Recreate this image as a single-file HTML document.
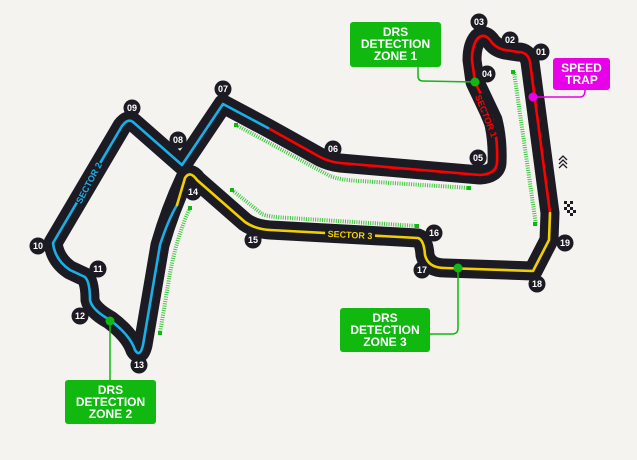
<!DOCTYPE html>
<html><head><meta charset="utf-8"><style>
html,body{margin:0;padding:0;background:#f4f3f0;}
svg{display:block;}
.n circle{fill:#1c1b24;}
.n text{fill:#fff;font:bold 9px "Liberation Sans",sans-serif;text-anchor:middle;}
.bx{font:bold 12px "Liberation Sans",sans-serif;fill:#fff;text-anchor:middle;}
</style></head><body>
<svg width="637" height="460" viewBox="0 0 637 460" xmlns="http://www.w3.org/2000/svg">
<rect width="637" height="460" fill="#f4f3f0"/>
<g fill="none" stroke="#3ec63e" stroke-width="4" stroke-dasharray="1 1.3">
<path d="M514 72 L536 225"/>
<path d="M236 125 L330 176 Q340 180 360 181 L470 188"/>
<path d="M232 190 L262 214 Q268 217 290 218 L417 226"/>
<path d="M190 208 Q175 240 168 285 L160 333"/>
</g>
<g fill="#10b810"><rect x="511" y="70" width="4" height="4"/><rect x="533" y="222" width="4" height="4"/><rect x="234" y="123" width="4" height="4"/><rect x="467" y="186" width="4" height="4"/><rect x="230" y="188" width="4" height="4"/><rect x="415" y="224" width="4" height="4"/><rect x="188" y="206" width="4" height="4"/><rect x="158" y="331" width="4" height="4"/></g>
<path d="M550 213 L530 62 Q528 52 518 52 L505 50 Q495 48 490 40 Q484 33 478 38 Q472 45 472 60 L475 82 L493 120 Q498 140 497 163 Q496 174 480 175 L340 163 Q330 162 320 157 L268 128 L223 104 L182 165 L133 122 Q128 118 122 126 L53 243 Q55 260 70 270 L85 277 Q90 282 90 300 Q92 310 110 320 Q130 335 135 350 Q140 358 143 345 L160 245 Q170 210 185 178 Q190 170 197 180 L245 222 Q255 229 270 230 L418 238 Q424 240 425 255 Q428 268 445 268 L533 271 L549 240 Z" fill="none" stroke="#1c1b24" stroke-width="19" stroke-linejoin="round"/>
<g fill="none" stroke-width="2.6" stroke-linejoin="round" stroke-linecap="round">
<path d="M550 213 L530 62 Q528 52 518 52 L505 50 Q495 48 490 40 Q484 33 478 38 Q472 45 472 60 L475 82 L493 120 Q498 140 497 163 Q496 174 480 175 L340 163 Q330 162 320 157 L268 128" stroke="#f00"/>
<path d="M268 128 L223 104 L182 165 L133 122 Q128 118 122 126 L53 243 Q55 260 70 270 L85 277 Q90 282 90 300 Q92 310 110 320 Q130 335 135 350 Q140 358 143 345 L160 245 Q168 220 177 205" stroke="#1ab0e6"/>
<path d="M177 205 L185 178 Q190 170 197 180 L245 222 Q255 229 270 230 L418 238 Q424 240 425 255 Q428 268 445 268 L533 271 L549 240 L550 213" stroke="#f2d000"/>
</g>
<g font-family="Liberation Sans,sans-serif" font-weight="bold" font-size="9" text-anchor="middle">
<g transform="translate(486,116) rotate(68)"><rect x="-23" y="-6" width="46" height="11" fill="#1c1b24"/><text y="3" fill="#f00">SECTOR 1</text></g>
<g transform="translate(89,183) rotate(-62)"><rect x="-23" y="-6" width="46" height="11" fill="#1c1b24"/><text y="3" fill="#1ab0e6">SECTOR 2</text></g>
<g transform="translate(350,235) rotate(3)"><rect x="-25" y="-6" width="50" height="11" fill="#1c1b24"/><text y="3" fill="#f2d000">SECTOR 3</text></g>
</g>
<g fill="none" stroke="#10b810" stroke-width="1.5">
<path d="M418 66 L418 76 Q418 81 423 81 L475 82"/>
<path d="M458 268 L458 328 Q458 334 452 334 L430 334"/>
<path d="M110 321 L110 380"/>
</g>
<path d="M533 97 L580 97 Q585 97 585 90" fill="none" stroke="#e800e8" stroke-width="1.5"/>
<circle cx="475" cy="82" r="4.5" fill="#10b810"/>
<circle cx="458" cy="268" r="4.5" fill="#10b810"/>
<circle cx="110" cy="321" r="4.5" fill="#10b810"/>
<circle cx="533" cy="97" r="4.5" fill="#e800e8"/>
<rect x="350" y="22" width="91" height="45" rx="3" fill="#10b810"/>
<text class="bx"><tspan x="395.5" y="36">DRS</tspan><tspan x="395.5" y="48">DETECTION</tspan><tspan x="395.5" y="60">ZONE 1</tspan></text>
<rect x="340" y="308" width="90" height="44" rx="3" fill="#10b810"/>
<text class="bx"><tspan x="385" y="322">DRS</tspan><tspan x="385" y="334">DETECTION</tspan><tspan x="385" y="346">ZONE 3</tspan></text>
<rect x="65" y="380" width="91" height="44" rx="3" fill="#10b810"/>
<text class="bx"><tspan x="110.5" y="394">DRS</tspan><tspan x="110.5" y="406">DETECTION</tspan><tspan x="110.5" y="418">ZONE 2</tspan></text>
<rect x="553" y="58" width="57" height="32" rx="3" fill="#e800e8"/>
<text class="bx"><tspan x="581.5" y="72">SPEED</tspan><tspan x="581.5" y="84">TRAP</tspan></text>
<path d="M559 160 l4 -4 l4 4 M559 164 l4 -4 l4 4 M559 168 l4 -4 l4 4" fill="none" stroke="#1c1b24" stroke-width="1.3"/>
<g fill="#1c1b24"><rect x="564" y="201" width="3" height="3"/><rect x="570" y="201" width="3" height="3"/><rect x="567" y="204" width="3" height="3"/><rect x="564" y="207" width="3" height="3"/><rect x="570" y="207" width="3" height="3"/><rect x="567" y="210" width="3" height="3"/><rect x="573" y="210" width="3" height="3"/><rect x="570" y="213" width="3" height="3"/></g>
<g class="n">
<g transform="translate(541,52)"><circle r="8.5"/><text y="3">01</text></g>
<g transform="translate(510,40)"><circle r="8.5"/><text y="3">02</text></g>
<g transform="translate(479,22)"><circle r="8.5"/><text y="3">03</text></g>
<g transform="translate(487,74)"><circle r="8.5"/><text y="3">04</text></g>
<g transform="translate(478,158)"><circle r="8.5"/><text y="3">05</text></g>
<g transform="translate(333,149)"><circle r="8.5"/><text y="3">06</text></g>
<g transform="translate(223,89)"><circle r="8.5"/><text y="3">07</text></g>
<g transform="translate(178,140)"><circle r="8.5"/><text y="3">08</text></g>
<g transform="translate(132,108)"><circle r="8.5"/><text y="3">09</text></g>
<g transform="translate(38,246)"><circle r="8.5"/><text y="3">10</text></g>
<g transform="translate(98,269)"><circle r="8.5"/><text y="3">11</text></g>
<g transform="translate(80,316)"><circle r="8.5"/><text y="3">12</text></g>
<g transform="translate(139,365)"><circle r="8.5"/><text y="3">13</text></g>
<g transform="translate(193,192)"><circle r="8.5"/><text y="3">14</text></g>
<g transform="translate(253,240)"><circle r="8.5"/><text y="3">15</text></g>
<g transform="translate(434,233)"><circle r="8.5"/><text y="3">16</text></g>
<g transform="translate(422,270)"><circle r="8.5"/><text y="3">17</text></g>
<g transform="translate(537,284)"><circle r="8.5"/><text y="3">18</text></g>
<g transform="translate(565,243)"><circle r="8.5"/><text y="3">19</text></g>
</g>
</svg>
</body></html>
